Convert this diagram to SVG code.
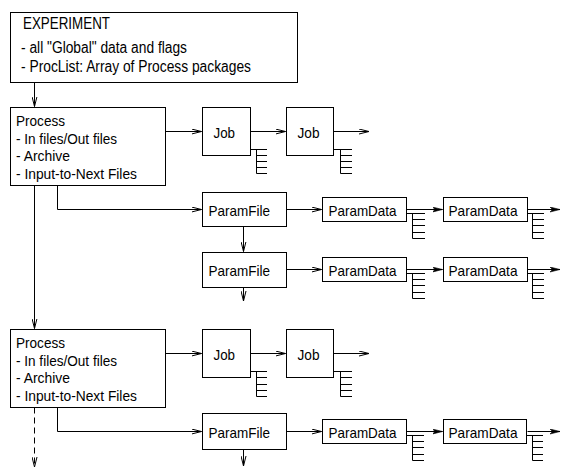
<svg xmlns="http://www.w3.org/2000/svg" width="561" height="471" viewBox="0 0 561 471">
<style>
  .box { fill: #fff; stroke: #000; stroke-width: 1; }
  .t { font-family: "Liberation Sans", Arial, sans-serif; font-size: 15px; fill: #000; }
  .tb { font-family: "Liberation Sans", Arial, sans-serif; font-size: 16px; fill: #000; }
  .c { fill: none; stroke: #000; stroke-width: 1; }
  .dash { stroke-dasharray: 6 4; }
  .lad { fill: none; stroke: #000; stroke-width: 1; }
</style>
<defs>
  <marker id="arr" markerUnits="userSpaceOnUse" viewBox="0 0 10 6" refX="10" refY="3" markerWidth="10" markerHeight="6" orient="auto">
    <path d="M0,0.5 L10,3 L0,5.5" fill="none" stroke="#000" stroke-width="1"/>
  </marker>
  <marker id="arrf" markerUnits="userSpaceOnUse" viewBox="0 0 10 6" refX="10" refY="3" markerWidth="10" markerHeight="6" orient="auto">
    <path d="M0,0.5 L10,3 L0,5.5 L2.5,3 Z" fill="#000" stroke="#000" stroke-width="0.6"/>
  </marker>
</defs>

<g id="connectors">
  <path class="c" d="M34.5,82.5 V106.5" marker-end="url(#arr)"/>
  <path class="c" d="M34.5,185.5 V328.5" marker-end="url(#arr)"/>
  <path class="c dash" d="M34.5,407.5 V467" marker-end="url(#arr)"/>
  <!-- process 1 -->
  <path class="c" d="M165.5,131.5 H201.5" marker-end="url(#arr)"/>
  <path class="c" d="M250.5,131.5 H285.5" marker-end="url(#arr)"/>
  <path class="c" d="M333.5,131.5 H369" marker-end="url(#arr)"/>
  <path class="c" d="M57.5,185.5 V209.5 H201.5" marker-end="url(#arr)"/>
  <path class="c" d="M286.5,209.5 H321.5" marker-end="url(#arr)"/>
  <path class="c" d="M406.5,209.5 H442.5" marker-end="url(#arrf)"/>
  <path class="c" d="M527.5,209.5 H560" marker-end="url(#arrf)"/>
  <path class="c" d="M243.5,226.5 V251.5" marker-end="url(#arr)"/>
  <path class="c" d="M286.5,269.5 H321.5" marker-end="url(#arr)"/>
  <path class="c" d="M406.5,269.5 H442.5" marker-end="url(#arrf)"/>
  <path class="c" d="M527.5,269.5 H560" marker-end="url(#arrf)"/>
  <path class="c" d="M243.5,287.5 V301" marker-end="url(#arr)"/>
  <!-- process 2 -->
  <path class="c" d="M165.5,353.5 H201.5" marker-end="url(#arr)"/>
  <path class="c" d="M250.5,353.5 H285.5" marker-end="url(#arr)"/>
  <path class="c" d="M333.5,353.5 H369" marker-end="url(#arr)"/>
  <path class="c" d="M57.5,407.5 V431.5 H201.5" marker-end="url(#arr)"/>
  <path class="c" d="M286.5,431.5 H321.5" marker-end="url(#arr)"/>
  <path class="c" d="M406.5,431.5 H442.5" marker-end="url(#arrf)"/>
  <path class="c" d="M527.5,431.5 H560" marker-end="url(#arrf)"/>
  <path class="c" d="M243.5,449.5 V466" marker-end="url(#arr)"/>
</g>

<g id="experiment">
  <rect class="box" x="10.5" y="12.5" width="287" height="70"/>
  <text class="tb" x="23" y="28.5" textLength="87" lengthAdjust="spacingAndGlyphs">EXPERIMENT</text>
  <text class="tb" x="21" y="52.5" textLength="166" lengthAdjust="spacingAndGlyphs">- all "Global" data and flags</text>
  <text class="tb" x="21" y="71.5" textLength="230" lengthAdjust="spacingAndGlyphs">- ProcList: Array of Process packages</text>
</g>

<g id="process1">
  <rect class="box" x="10.5" y="107.5" width="155" height="78"/>
  <text class="t" x="16" y="126" textLength="49" lengthAdjust="spacingAndGlyphs">Process</text>
  <text class="t" x="16" y="143.5" textLength="101" lengthAdjust="spacingAndGlyphs">- In files/Out files</text>
  <text class="t" x="16" y="161" textLength="54" lengthAdjust="spacingAndGlyphs">- Archive</text>
  <text class="t" x="16" y="179" textLength="121" lengthAdjust="spacingAndGlyphs">- Input-to-Next Files</text>
</g>

<g id="job1">
  <rect class="box" x="202.5" y="107.5" width="48" height="48"/>
  <text class="t" x="213.5" y="138" textLength="21.5" lengthAdjust="spacingAndGlyphs">Job</text>
  <path class="lad" d="M250.5,149.5 H267 M256.5,149.5 V173.5 M256.5,155.5 H267 M256.5,161.5 H267 M256.5,167.5 H267 M256.5,173.5 H267"/>
</g>
<g id="job2">
  <rect class="box" x="286.5" y="107.5" width="47" height="48"/>
  <text class="t" x="297.5" y="138" textLength="22" lengthAdjust="spacingAndGlyphs">Job</text>
  <path class="lad" d="M333.5,149.5 H352 M340.5,149.5 V173.5 M340.5,155.5 H352 M340.5,161.5 H352 M340.5,167.5 H352 M340.5,173.5 H352"/>
</g>

<g id="paramfile1">
  <rect class="box" x="202.5" y="192.5" width="84" height="34"/>
  <text class="t" x="208.5" y="216" textLength="61.5" lengthAdjust="spacingAndGlyphs">ParamFile</text>
</g>
<g id="paramdata1">
  <rect class="box" x="322.5" y="197.5" width="84" height="24"/>
  <text class="t" x="328.5" y="216" textLength="68" lengthAdjust="spacingAndGlyphs">ParamData</text>
  <path class="lad" d="M406.5,213.5 H425 M412.5,213.5 V238.5 M412.5,219.5 H425 M412.5,225.5 H425 M412.5,232.5 H425 M412.5,238.5 H425"/>
</g>
<g id="paramdata2">
  <rect class="box" x="443.5" y="197.5" width="84" height="24"/>
  <text class="t" x="448.5" y="216" textLength="69" lengthAdjust="spacingAndGlyphs">ParamData</text>
  <path class="lad" d="M527.5,213.5 H544 M532.5,213.5 V238.5 M532.5,219.5 H544 M532.5,225.5 H544 M532.5,232.5 H544 M532.5,238.5 H544"/>
</g>

<g id="paramfile2">
  <rect class="box" x="202.5" y="252.5" width="84" height="35"/>
  <text class="t" x="208.5" y="276" textLength="61.5" lengthAdjust="spacingAndGlyphs">ParamFile</text>
</g>
<g id="paramdata3">
  <rect class="box" x="322.5" y="257.5" width="84" height="24"/>
  <text class="t" x="328.5" y="276" textLength="68" lengthAdjust="spacingAndGlyphs">ParamData</text>
  <path class="lad" d="M406.5,273.5 H425 M412.5,273.5 V298.5 M412.5,279.5 H425 M412.5,285.5 H425 M412.5,292.5 H425 M412.5,298.5 H425"/>
</g>
<g id="paramdata4">
  <rect class="box" x="443.5" y="257.5" width="84" height="24"/>
  <text class="t" x="448.5" y="276" textLength="69" lengthAdjust="spacingAndGlyphs">ParamData</text>
  <path class="lad" d="M527.5,273.5 H544 M532.5,273.5 V298.5 M532.5,279.5 H544 M532.5,285.5 H544 M532.5,292.5 H544 M532.5,298.5 H544"/>
</g>

<g id="process2">
  <rect class="box" x="10.5" y="329.5" width="155" height="78"/>
  <text class="t" x="16" y="348" textLength="49" lengthAdjust="spacingAndGlyphs">Process</text>
  <text class="t" x="16" y="365.5" textLength="101" lengthAdjust="spacingAndGlyphs">- In files/Out files</text>
  <text class="t" x="16" y="383" textLength="54" lengthAdjust="spacingAndGlyphs">- Archive</text>
  <text class="t" x="16" y="401" textLength="121" lengthAdjust="spacingAndGlyphs">- Input-to-Next Files</text>
</g>

<g id="job3">
  <rect class="box" x="202.5" y="329.5" width="48" height="48"/>
  <text class="t" x="213.5" y="360" textLength="21.5" lengthAdjust="spacingAndGlyphs">Job</text>
  <path class="lad" d="M250.5,371.5 H267 M256.5,371.5 V396.5 M256.5,377.5 H267 M256.5,384.5 H267 M256.5,390.5 H267 M256.5,396.5 H267"/>
</g>
<g id="job4">
  <rect class="box" x="286.5" y="329.5" width="47" height="48"/>
  <text class="t" x="297.5" y="360" textLength="22" lengthAdjust="spacingAndGlyphs">Job</text>
  <path class="lad" d="M333.5,371.5 H352 M340.5,371.5 V396.5 M340.5,377.5 H352 M340.5,384.5 H352 M340.5,390.5 H352 M340.5,396.5 H352"/>
</g>

<g id="paramfile3">
  <rect class="box" x="202.5" y="413.5" width="84" height="36"/>
  <text class="t" x="208.5" y="438" textLength="61.5" lengthAdjust="spacingAndGlyphs">ParamFile</text>
</g>
<g id="paramdata5">
  <rect class="box" x="322.5" y="419.5" width="84" height="24"/>
  <text class="t" x="328.5" y="438" textLength="68" lengthAdjust="spacingAndGlyphs">ParamData</text>
  <path class="lad" d="M406.5,435.5 H424 M412.5,435.5 V460.5 M412.5,441.5 H424 M412.5,447.5 H424 M412.5,454.5 H424 M412.5,460.5 H424"/>
</g>
<g id="paramdata6">
  <rect class="box" x="443.5" y="419.5" width="83" height="24"/>
  <text class="t" x="448.5" y="438" textLength="69" lengthAdjust="spacingAndGlyphs">ParamData</text>
  <path class="lad" d="M526.5,435.5 H543 M532.5,435.5 V460.5 M532.5,441.5 H543 M532.5,447.5 H543 M532.5,454.5 H543 M532.5,460.5 H543"/>
</g>
</svg>
